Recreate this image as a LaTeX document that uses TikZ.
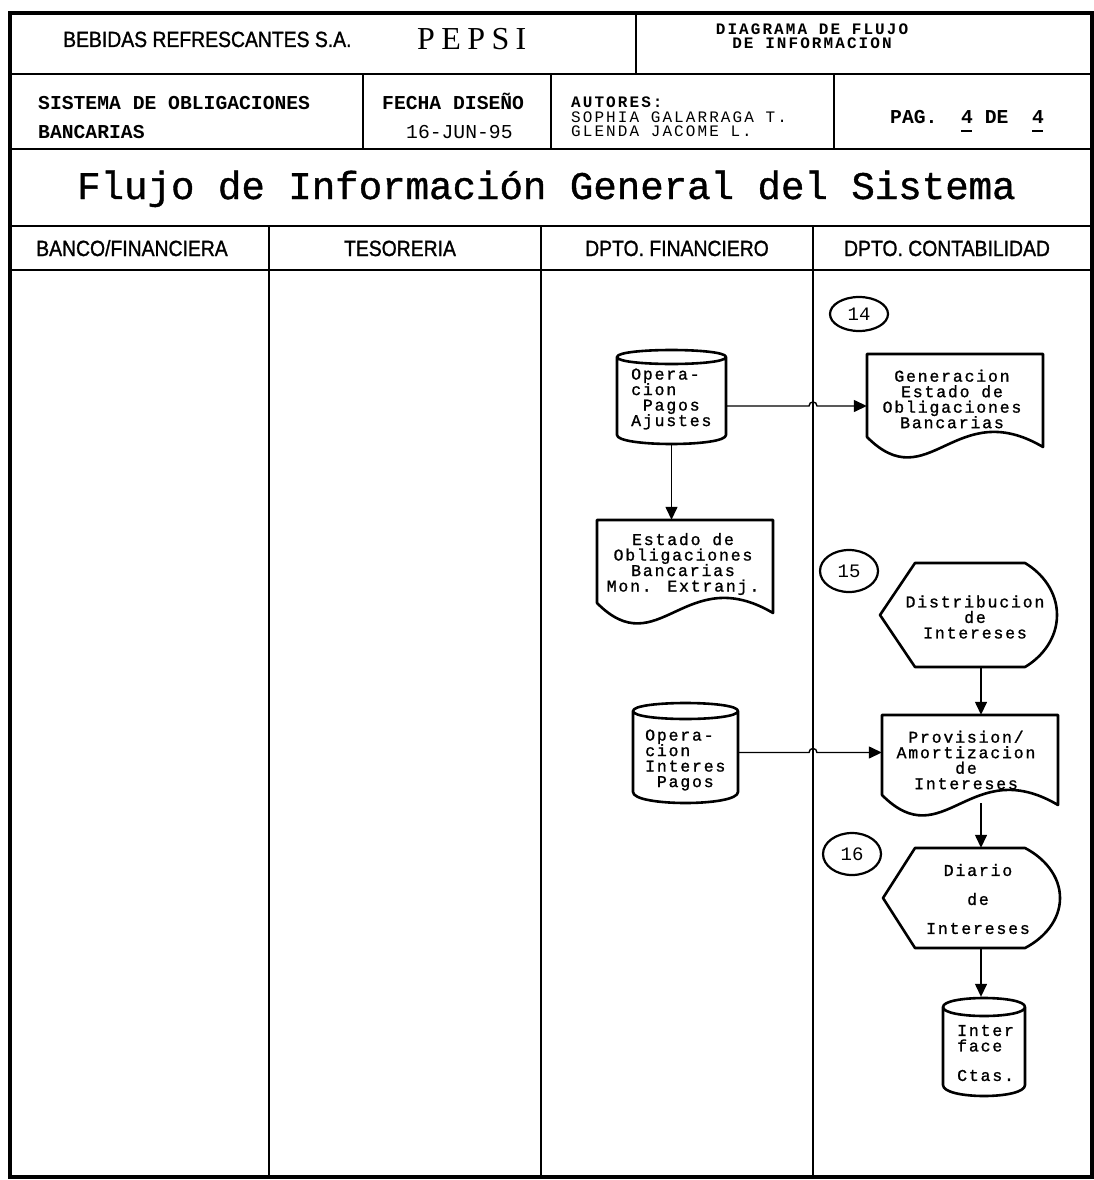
\documentclass[tikz,border=0pt]{standalone}
\usepackage{fontspec}
\setmainfont{Liberation Sans}
\newfontfamily\monof{Liberation Mono}
\newfontfamily\monotight[LetterSpace=13]{Liberation Mono}
\newfontfamily\monoshp[LetterSpace=11,FakeBold=1.2]{Liberation Mono}
\newfontfamily\hdrf[FakeStretch=0.88,FakeBold=1.2]{Liberation Sans}
\newfontfamily\titlef[FakeBold=1]{Liberation Mono}
\newfontfamily\pepsif[LetterSpace=20]{Liberation Serif}
\usetikzlibrary{arrows.meta,shapes.geometric,calc}
\newcommand\cylshape[6]{%
  \draw[shp] (#1,#3) .. controls (#1,{#3-1.333*#5}) and (#2,{#3-1.333*#5}) .. (#2,#3)
    .. controls (#2,{#3+1.333*#5}) and (#1,{#3+1.333*#5}) .. (#1,#3)
    -- (#1,#4) .. controls (#1,{#4+1.333*#6}) and (#2,{#4+1.333*#6}) .. (#2,#4) -- (#2,#3);}
\newcommand\docshape[4]{%
  \draw[shp] (#1,{#4-10}) -- (#1,#3) -- (#2,#3) -- (#2,#4)
   .. controls ({#1+0.5*(#2-#1)},{#4-52}) and ({#1+0.35*(#2-#1)},{#4+52}) .. (#1,{#4-10}) -- cycle;}
\newcommand\dispshape[6]{%
  \draw[shp] (#1,{(#5+#6)/2}) -- (#2,#5) -- (#3,#5)
   .. controls ({#3+0.55*(#4-#3)},{#5+0.1*(#6-#5)}) and (#4,{#5+0.28*(#6-#5)}) .. (#4,{(#5+#6)/2})
   .. controls (#4,{#6-0.28*(#6-#5)}) and ({#3+0.55*(#4-#3)},{#6-0.1*(#6-#5)}) .. (#3,#6)
   -- (#2,#6) -- cycle;}
\newcommand\ulfour{\rlap{\raisebox{-8pt}{\rule{11pt}{1.8pt}}}4}
\begin{document}
\begin{tikzpicture}[x=1pt,y=-1pt,
  frameline/.style={line width=4.5pt},
  rowline/.style={line width=2.6pt},
  laneline/.style={line width=1.3pt},
  shp/.style={line width=2.6pt,line join=round},
  conn/.style={line width=1.4pt,-{Triangle[length=13pt,width=12pt]}},
  hdr/.style={inner sep=0pt,font=\hdrf\fontsize{22}{22}\selectfont},
  mb/.style={inner sep=0pt,font=\monof\bfseries\fontsize{19.7}{14}\selectfont},
  mr/.style={inner sep=0pt,font=\monof\fontsize{19.7}{14}\selectfont},
  sx/.style={inner sep=0pt,align=center,font={\monoshp\fontsize{16.5}{15.5}\selectfont\lineskiplimit=-50pt}},
  sxl/.style={inner sep=0pt,align=left,font={\monoshp\fontsize{16.5}{15.5}\selectfont\lineskiplimit=-50pt}},
  box/.style={draw=none,inner sep=0pt},
  numc/.style={draw,ellipse,line width=2.2pt,inner sep=0pt,minimum width=58pt,font=\monof\fontsize{19}{19}\selectfont}
]
\fill[white] (0,0) rectangle (1094,1180);
\useasboundingbox (0,0) rectangle (1094,1180);
% frame and header grid
\draw[frameline] (10,13) rectangle (1092,1177);
\draw[rowline] (10,74) -- (1092,74);
\draw[rowline] (10,149) -- (1092,149);
\draw[rowline] (10,226) -- (1092,226);
\draw[rowline] (10,270) -- (1092,270);
\draw[laneline] (636,13) -- (636,74);
\draw[laneline] (363,74) -- (363,149);
\draw[laneline] (551,74) -- (551,149);
\draw[laneline] (834,74) -- (834,149);
\draw[laneline] (269,226) -- (269,1177);
\draw[laneline] (541,226) -- (541,1177);
\draw[laneline] (813,226) -- (813,1177);
\coordinate (lane3) at (813,300);
\coordinate (spine) at (981,700);
% header texts
\node[hdr,anchor=base west] (bebidas) at (63,47) {BEBIDAS REFRESCANTES S.A.};
\node[inner sep=0pt,anchor=base west,font=\pepsif\fontsize{32}{32}\selectfont] (pepsi) at (417,50) {PEPSI};
\node[inner sep=0pt,align=center,font={\monotight\bfseries\fontsize{16}{14.5}\selectfont\lineskiplimit=-50pt}] (diag) at (812,36) {DIAGRAMA DE FLUJO\\DE INFORMACION};
\node[mb,anchor=base west] (sis1) at (38,110) {SISTEMA DE OBLIGACIONES};
\node[mb,anchor=base west] (sis2) at (38,139) {BANCARIAS};
\node[mb,anchor=base west] (fecha) at (382,110) {FECHA DISEÑO};
\node[mr,anchor=base west] (fdate) at (406,139) {16-JUN-95};
\node[inner sep=0pt,anchor=west,align=left,font={\monotight\fontsize{16}{14.5}\selectfont\lineskiplimit=-50pt}] (aut) at (571,117) {\textbf{AUTORES:}\\SOPHIA GALARRAGA T.\\GLENDA JACOME L.};
\node[mb,anchor=base west] (pag) at (890,124) {PAG.~~\ulfour~DE~~\ulfour};
\node[inner sep=0pt,anchor=base west,font=\titlef\fontsize{39.1}{40}\selectfont] (title) at (77,199) {Flujo de Información General del Sistema};
\node[hdr,anchor=base] (lane1) at (132,256) {BANCO/FINANCIERA};
\node[hdr,anchor=base] (lane2) at (400,256) {TESORERIA};
\node[hdr,anchor=base] (lane3t) at (677,256) {DPTO. FINANCIERO};
\node[hdr,anchor=base] (lane4) at (947,256) {DPTO. CONTABILIDAD};
% shape boxes (names)
\node[box,minimum width=109pt,minimum height=95pt] (cyl1) at (671.5,396.5) {};
\node[box,minimum width=176pt,minimum height=104pt] (doc1) at (955,406) {};
\node[box,minimum width=176pt,minimum height=103pt] (doc2) at (685,571.5) {};
\node[box,minimum width=105pt,minimum height=101pt] (cyl2) at (685.5,752.5) {};
\node[box,minimum width=177pt,minimum height=104pt] (disp1) at (968.5,615) {};
\node[box,minimum width=176pt,minimum height=100pt] (doc3) at (970,765) {};
\node[box,minimum width=177pt,minimum height=100pt] (disp2) at (971.5,898) {};
\node[box,minimum width=82pt,minimum height=100pt] (cyl3) at (984,1047) {};
% outlines
\cylshape{617}{726}{357}{435}{7}{9}
\docshape{867}{1043}{354}{447}
\docshape{597}{773}{520}{613}
\cylshape{633}{738}{711}{792}{8}{11}
\dispshape{880}{915}{1025}{1057}{563}{667}
\docshape{882}{1058}{715}{805}
\dispshape{883}{915}{1025}{1060}{848}{948}
\cylshape{943}{1025}{1007}{1085}{9}{11}
% shape texts
\node[sxl,anchor=west] (cyl1t) at (631,399) {Opera-\\cion\\~Pagos\\Ajustes};
\node[sx] (doc1t) at (952,399) {Generacion\\Estado de\\Obligaciones\\Bancarias};
\node[sx] (doc2t) at (683,564) {Estado de\\Obligaciones\\Bancarias\\Mon. Extranj.};
\node[sxl,anchor=west] (cyl2t) at (645,760) {Opera-\\cion\\Interes\\~Pagos};
\node[sx] (disp1t) at (975,617) {Distribucion\\de\\Intereses};
\node[sx] (doc3t) at (966,760) {Provision/\\Amortizacion\\de\\Intereses};
\node[sx] (disp2t) at (978,899) {Diario\\[13.5pt]de\\[13.5pt]Intereses};
\node[sxl,anchor=west] (cyl3t) at (957,1053) {Inter\\face\\[14pt]Ctas.};
% numbered circles
\node[numc,minimum height=34pt] (c14) at (859,314) {14};
\node[numc,minimum height=42pt] (c15) at (849,571) {15};
\node[numc,minimum height=42pt] (c16) at (852,854) {16};
% connectors
\draw[conn] (cyl1.east |- doc1.west) -- ($(lane3 |- doc1.west)+(-4,0)$)
  .. controls +(0,-5.3) and +(0,-5.3) .. ($(lane3 |- doc1.west)+(4,0)$) -- (doc1.west);
\draw[conn] (cyl1.south) -- (cyl1.south |- doc2.north);
\draw[conn] (disp1.south -| spine) -- (doc3.north -| spine);
\draw[conn] (cyl2.east) -- ($(lane3 |- cyl2.east)+(-4,0)$)
  .. controls +(0,-5.3) and +(0,-5.3) .. ($(lane3 |- cyl2.east)+(4,0)$) -- (cyl2.east -| doc3.west);
\draw[conn] ([yshift=12pt]doc3.south -| spine) -- (disp2.north -| spine);
\draw[conn] (disp2.south -| spine) -- (cyl3.north -| spine);
\end{tikzpicture}
\end{document}
